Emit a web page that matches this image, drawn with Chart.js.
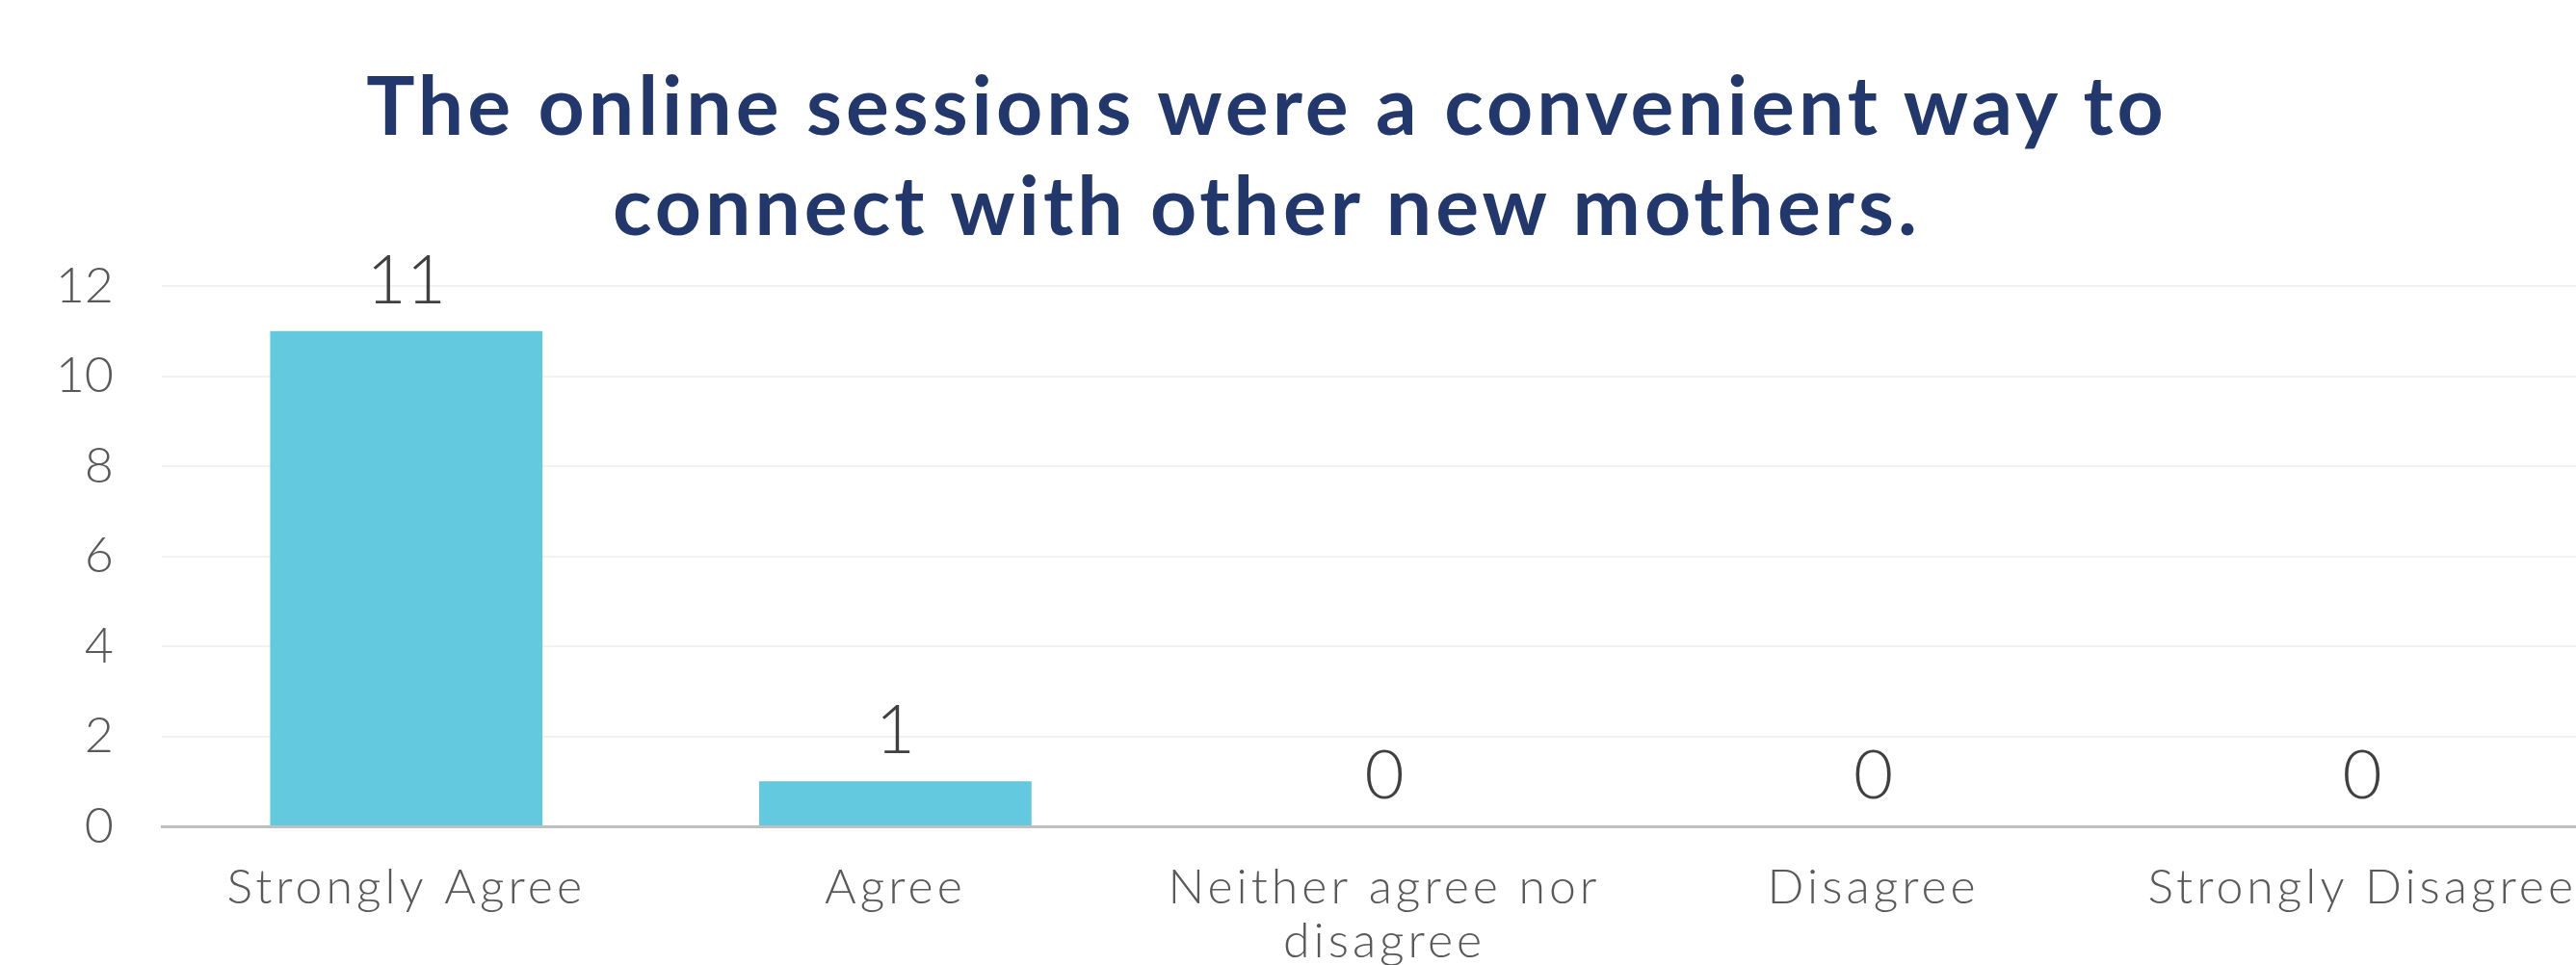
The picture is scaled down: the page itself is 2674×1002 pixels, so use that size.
<!DOCTYPE html>
<html>
<head>
<meta charset="utf-8">
<script src="https://cdn.jsdelivr.net/npm/chart.js@4"></script>
<style>
    html, body { margin: 0; padding: 0; background: #ffffff; overflow: hidden; }
    body { width: 2674px; height: 1002px; position: relative; }
    #title {
        position: absolute;
        left: 0;
        top: 56px;
        width: 2630px;
        text-align: center;
        font-family: Lato, sans-serif;
        font-weight: 700;
        font-size: 84px;
        letter-spacing: 4px;
        line-height: 104px;
        color: #22376c;
    }
    #chart { position: absolute; left: 0; top: 0; }
</style>
</head>
<body>
<div id="title">The online sessions were a convenient way to<br>connect with other new mothers.</div>
<canvas id="chart" width="2706" height="1010"></canvas>
<script>
const categories = [
    "Strongly Agree",
    "Agree",
    ["Neither agree nor", "disagree"],
    "Disagree",
    "Strongly Disagree"
];
const responses = [11, 1, 0, 0, 0];
const yTicks = [0, 2, 4, 6, 8, 10, 12];

// value labels above each bar, then widen the category labels drawn after it
const valueLabels = {
    id: "valueLabels",
    afterDatasetsDraw(chart) {
        const ctx = chart.ctx;
        const meta = chart.getDatasetMeta(0);
        ctx.save();
        ctx.font = "300 71px Lato";
        ctx.fillStyle = "#404040";
        ctx.textAlign = "center";
        ctx.textBaseline = "alphabetic";
        meta.data.forEach((bar, i) => {
            ctx.fillText(String(responses[i]), bar.x, bar.y - 29);
        });
        ctx.restore();
        ctx.letterSpacing = "4px";
    },
    afterDraw(chart) {
        chart.ctx.letterSpacing = "0px";
    }
};

const ctx = document.getElementById("chart").getContext("2d");

new Chart(ctx, {
    type: "bar",
    data: {
        labels: categories,
        datasets: [{
            data: responses,
            backgroundColor: "#63c9df",
            borderWidth: 0,
            barPercentage: 0.557,
            categoryPercentage: 1.0
        }]
    },
    options: {
        responsive: false,
        animation: false,
        devicePixelRatio: 1,
        layout: { padding: { top: 297, left: 0, right: 0, bottom: 0 } },
        plugins: {
            legend: { display: false },
            title: { display: false },
            tooltip: { enabled: false }
        },
        scales: {
            x: {
                grid: { display: false, drawTicks: false },
                border: { display: true, color: "#bfbfbf", width: 3 },
                ticks: {
                    z: 1,
                    color: "#595959",
                    padding: 36,
                    maxRotation: 0,
                    autoSkip: false,
                    font: { family: "Lato", weight: 300, size: 50, lineHeight: 1.12 }
                },
                afterFit(scale) { scale.height = 1010 - 858; }
            },
            y: {
                min: 0,
                max: 12,
                afterBuildTicks(scale) { scale.ticks = yTicks.map(v => ({ value: v })); },
                grid: { color: "#f2f2f2", lineWidth: 2, drawTicks: false },
                border: { display: false },
                ticks: {
                    color: "#595959",
                    padding: 50,
                    font: { family: "Lato", weight: 300, size: 52 }
                },
                afterFit(scale) { scale.width = 168; }
            }
        }
    },
    plugins: [valueLabels]
});
</script>
</body>
</html>
